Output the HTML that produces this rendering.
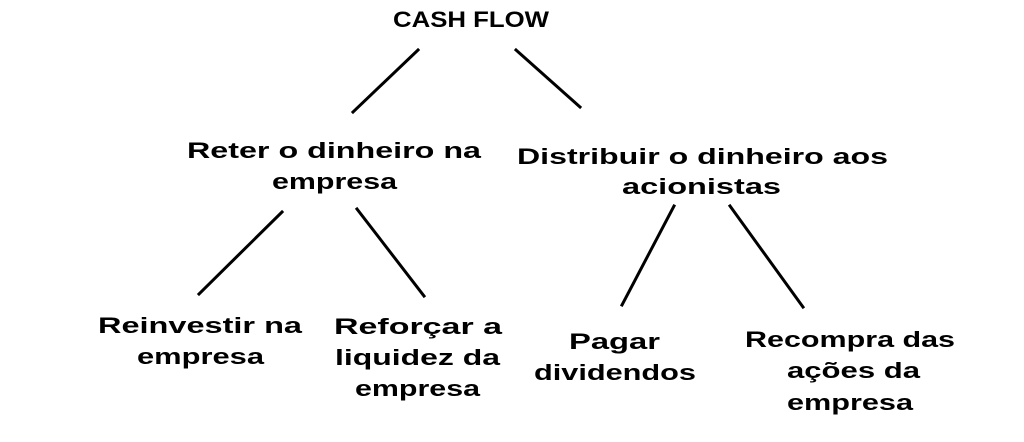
<!DOCTYPE html>
<html><head><meta charset="utf-8"><style>
html,body{margin:0;padding:0;background:#fff;}
svg{display:block;}
text{font-family:"Liberation Sans",sans-serif;font-weight:bold;font-size:22px;fill:#000;}
</style></head><body>
<svg width="1024" height="442" viewBox="0 0 1024 442" xmlns="http://www.w3.org/2000/svg">
<g stroke="#000" stroke-width="3" stroke-linecap="square">
<line x1="418" y1="50" x2="353" y2="112"/>
<line x1="516" y1="50" x2="580" y2="107"/>
<line x1="282" y1="212" x2="199" y2="294"/>
<line x1="357" y1="209" x2="424" y2="296"/>
<line x1="674" y1="206" x2="622" y2="305"/>
<line x1="730" y1="206" x2="803" y2="307"/>
</g>
<text x="393" y="27" textLength="156" lengthAdjust="spacingAndGlyphs">CASH FLOW</text>
<text x="187" y="158" textLength="294" lengthAdjust="spacingAndGlyphs">Reter o dinheiro na</text>
<text x="272" y="189" textLength="125" lengthAdjust="spacingAndGlyphs">empresa</text>
<text x="517" y="164" textLength="371" lengthAdjust="spacingAndGlyphs">Distribuir o dinheiro aos</text>
<text x="622" y="194" textLength="159" lengthAdjust="spacingAndGlyphs">acionistas</text>
<text x="98" y="333" textLength="204" lengthAdjust="spacingAndGlyphs">Reinvestir na</text>
<text x="137" y="364" textLength="127" lengthAdjust="spacingAndGlyphs">empresa</text>
<text x="334" y="334" textLength="168" lengthAdjust="spacingAndGlyphs">Reforçar a</text>
<text x="335" y="365" textLength="165" lengthAdjust="spacingAndGlyphs">liquidez da</text>
<text x="355" y="396" textLength="125" lengthAdjust="spacingAndGlyphs">empresa</text>
<text x="569" y="349" textLength="91" lengthAdjust="spacingAndGlyphs">Pagar</text>
<text x="534" y="380" textLength="162" lengthAdjust="spacingAndGlyphs">dividendos</text>
<text x="745" y="347" textLength="210" lengthAdjust="spacingAndGlyphs">Recompra das</text>
<text x="787" y="378" textLength="133" lengthAdjust="spacingAndGlyphs">ações da</text>
<text x="787" y="410" textLength="126" lengthAdjust="spacingAndGlyphs">empresa</text>
</svg>
</body></html>
